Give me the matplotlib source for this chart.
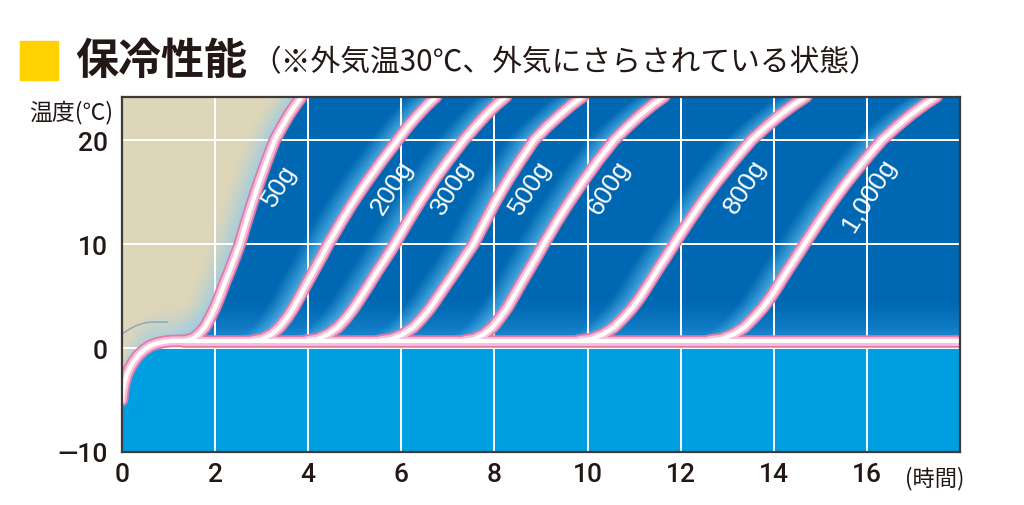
import numpy as np
import matplotlib
matplotlib.use("Agg")
import matplotlib.pyplot as plt
from matplotlib.patches import Rectangle

# ---------------- data ----------------
hours_ticks = [0, 2, 4, 6, 8, 10, 12, 14, 16]
temp_ticks = [-10, 0, 10, 20]
temp_tick_labels = ["\u201410", "0", "10", "20"]

# initial cooling curve of the ice pack (common to all) and plateau
ice_h = [0, 0.02, 0.05, 0.1, 0.17, 0.25, 0.35, 0.47, 0.6, 0.75, 0.9, 1.05, 1.3]
ice_t = [-5.0, -4.2, -3.4, -2.6, -1.9, -1.3, -0.7, -0.2, 0.2, 0.45, 0.6, 0.68, 0.7]
plateau_h = [1.3, 18.0]
plateau_t = [0.7, 0.7]

labels = ["50g", "200g", "300g", "500g", "600g", "800g", "1,000g"]

# temperatures at which the warming curves were read
curve_t = [0.7, 0.85, 1.3, 2.0, 2.9, 3.9, 5.0, 6.2, 7.5, 8.8, 10.0,
           12.0, 14.0, 16.0, 18.0, 20.0, 21.3, 22.4, 23.4, 24.2]

h_50 = [1.35, 1.5, 1.64, 1.78, 1.89, 2.0, 2.1, 2.2, 2.32, 2.43, 2.53,
        2.66, 2.8, 2.95, 3.11, 3.28, 3.44, 3.58, 3.73, 3.86]
h_200 = [2.81, 3.01, 3.21, 3.385, 3.545, 3.69, 3.825, 3.97, 4.13, 4.29, 4.43,
         4.69, 4.96, 5.26, 5.58, 5.92, 6.14, 6.35, 6.56, 6.75]
h_300 = [3.96, 4.2, 4.42, 4.64, 4.82, 4.99, 5.15, 5.32, 5.5, 5.69, 5.86,
         6.12, 6.39, 6.68, 7.0, 7.34, 7.59, 7.81, 8.04, 8.25]
h_500 = [5.54, 5.79, 6.03, 6.26, 6.45, 6.63, 6.8, 6.98, 7.18, 7.37, 7.55,
         7.78, 8.01, 8.27, 8.55, 8.85, 9.13, 9.4, 9.66, 9.9]
h_600 = [7.35, 7.56, 7.77, 7.96, 8.12, 8.28, 8.42, 8.57, 8.74, 8.91, 9.06,
         9.32, 9.6, 9.9, 10.22, 10.57, 10.86, 11.13, 11.4, 11.65]
h_800 = [9.8, 10.07, 10.33, 10.57, 10.77, 10.97, 11.15, 11.32, 11.5, 11.69, 11.86,
         12.15, 12.45, 12.78, 13.14, 13.52, 13.84, 14.13, 14.43, 14.7]
h_1000 = [12.6, 12.87, 13.13, 13.37, 13.57, 13.77, 13.95, 14.12, 14.3, 14.49, 14.66,
          14.95, 15.25, 15.58, 15.94, 16.32, 16.64, 16.93, 17.23, 17.5]

label_h = [3.39, 5.80, 7.09, 8.78, 10.46, 13.38, 16.04]
label_t = [15.7, 15.5, 15.5, 15.5, 15.5, 15.6, 14.8]

# faint outside-air hint line in the beige area
hint_h = [0.0, 0.15, 0.3, 0.45, 0.6, 0.97]
hint_t = [1.35, 1.8, 2.15, 2.38, 2.5, 2.5]

curves_h = [h_50, h_200, h_300, h_500, h_600, h_800, h_1000]

# ---------------- style ----------------
W, H = 1024, 506
L, R, T, B = 122, 960, 98, 453
XMAX, YMIN, YMAX = 18.0, -10.0, 24.15
INK = "#231815"
DARK = np.array([0, 104, 178]) / 255
LIGHT = np.array([0, 160, 226]) / 255
BEIGE = np.array([222, 214, 184]) / 255
GLOW = np.array([95, 190, 238]) / 255
GLOW50 = np.array([145, 202, 234]) / 255
ICEGLOW = np.array([165, 206, 226]) / 255
PLATEAU_MID = np.array([30, 140, 212]) / 255

fig = plt.figure(figsize=(W / 100, H / 100), dpi=100)
ax = fig.add_axes([L / W, 1 - B / H, (R - L) / W, (B - T) / H])
ax.set_xlim(0, XMAX)
ax.set_ylim(YMIN, YMAX)

# ---------------- background image (decoration) ----------------
nx, ny = 1676, 710
xs = np.linspace(0, XMAX, nx)
ys = np.linspace(YMIN, YMAX, ny)
X, Y = np.meshgrid(xs, ys)

plat = plateau_t[0]
above = Y > plat
f = np.clip(1 - (Y - plat) / 4.5, 0, 1) ** 1.8
img = DARK[None, None, :] * (1 - f[..., None]) + PLATEAU_MID[None, None, :] * f[..., None]
img[~above] = LIGHT

gw = 0.62
for k, hh in enumerate(curves_h):
    xc = np.interp(Y, curve_t, hh)
    d = xc - X
    gl = np.where((d >= 0) & (d <= gw), 1 - d / gw, 0.0) ** 1.1
    gr = np.where((d < 0) & (d > -0.22), 1 + d / 0.22, 0.0) ** 2 * 0.55
    if k == 0:
        g = gr * above
    else:
        g = np.maximum(gl, gr) * above
    img = img * (1 - g[..., None]) + GLOW[None, None, :] * g[..., None]

# beige "outside" region left of the 50g curve, above the ice curve
x50 = np.interp(Y, curve_t, h_50)
ice_y = np.interp(X, ice_h, ice_t)
outside = ((Y > plat) & (X < x50)) | ((Y <= plat) & (Y > ice_y) & (X < plateau_h[0]))
d50 = np.clip((x50 - X) / 0.7, 0, 1)
dice = np.clip((Y - ice_y) / 3.8, 0, 1)
w50 = (1 - d50) ** 1.4
wice = (1 - dice) ** 1.5
col_out = BEIGE[None, None, :] * np.ones_like(img)
col_out = col_out * (1 - wice[..., None]) + ICEGLOW[None, None, :] * wice[..., None]
col_out = col_out * (1 - w50[..., None]) + GLOW50[None, None, :] * w50[..., None]
img = np.where(outside[..., None], col_out, img)

ax.imshow(img, origin="lower", extent=(0, XMAX, YMIN, YMAX), aspect="auto",
          interpolation="bilinear", zorder=0)

# ---------------- grid ----------------
ax.set_xticks(hours_ticks)
ax.set_yticks(temp_ticks)
ax.grid(True, color="white", linewidth=1.4, zorder=1)
ax.set_axisbelow(True)

ax.plot(hint_h, hint_t, color="#7c9fbd", lw=1.0, zorder=2, alpha=0.9)

# ---------------- curves (layered tubes so joins merge) ----------------
all_h = [ice_h, plateau_h] + curves_h
all_t = [ice_t, plateau_t] + [curve_t] * len(curves_h)
layers = [("#e27aa8", 9.0), ("#f6bfd7", 6.4), ("white", 3.0)]
for li, (col, lw) in enumerate(layers):
    for hh, tt in zip(all_h, all_t):
        ax.plot(hh, tt, color=col, lw=lw, solid_capstyle="round",
                solid_joinstyle="round", zorder=3 + 0.1 * li)

for lab, lx, ly in zip(labels, label_h, label_t):
    ax.text(lx, ly, lab, color="white", fontsize=19, rotation=58,
            ha="center", va="center", rotation_mode="anchor",
            family=["Liberation Sans Narrow", "Liberation Sans", "DejaVu Sans"], zorder=6)

# ---------------- axes styling ----------------
for s in ax.spines.values():
    s.set_color("#3e3a39")
    s.set_linewidth(1.6)
    s.set_zorder(7)
ax.tick_params(length=0, labelsize=19, colors=INK)
ax.tick_params(axis="x", pad=7)
ax.tick_params(axis="y", pad=10)
ax.set_yticklabels(temp_tick_labels)
for lab in ax.get_xticklabels() + ax.get_yticklabels():
    lab.set_family(["Roboto", "Liberation Sans", "DejaVu Sans"])
    lab.set_fontweight("medium")

# ---------------- texts ----------------
CJK = ["Noto Sans CJK JP", "DejaVu Sans"]
fig.patches.append(Rectangle((20 / W, 1 - 81 / H), 38 / W, 39 / H, transform=fig.transFigure,
                             color="#FFD100", zorder=1))
fig.text(75 / W, 1 - 61 / H, "保冷性能", fontsize=31, fontweight="bold", family=CJK,
         color=INK, ha="left", va="center")
fig.text(251 / W, 1 - 63 / H, "（※外気温30℃、外気にさらされている状態）", fontsize=21.4,
         family=CJK, color=INK, ha="left", va="center")
fig.text(113 / W, 1 - 112 / H, "温度(℃)", fontsize=16.5, family=CJK, color=INK,
         ha="right", va="center")
fig.text(964 / W, 1 - 479 / H, "(時間)", fontsize=16, family=CJK, color=INK,
         ha="right", va="center")

fig.savefig("out.png", dpi=100)
